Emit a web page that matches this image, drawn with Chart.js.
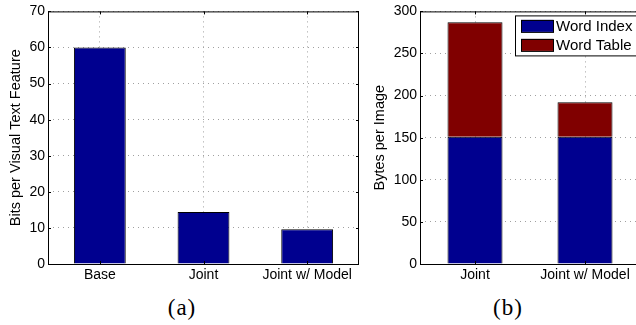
<!DOCTYPE html>
<html>
<head>
<meta charset="utf-8">
<script src="https://cdn.jsdelivr.net/npm/chart.js@4/dist/chart.umd.min.js"></script>
<style>
  html, body { margin: 0; padding: 0; background: #fff; overflow: hidden; }
  body { width: 636px; height: 325px; position: relative; }
  .box { position: absolute; top: 0; }
  .cap { position: absolute; top: 295px; width: 60px; text-align: center; line-height: 26px;
         font-family: "Liberation Serif", "Times New Roman", serif; font-size: 23px; letter-spacing: 1px; color: #000; }
</style>
</head>
<body>
<div class="box" style="left:0;width:362px;height:290px"><canvas id="chartA"></canvas></div>
<div class="box" style="left:370px;width:280px;height:290px"><canvas id="chartB"></canvas></div>
<div class="cap" style="left:152px">(a)</div>
<div class="cap" style="left:478px">(b)</div>
<script>
// panel (a)
const labelsA = ["Base", "Joint", "Joint w/ Model"];
const bitsPerFeature = [60, 14.4, 9.6];
const ticksA = [0, 10, 20, 30, 40, 50, 60, 70];

// panel (b)
const labelsB = ["Joint", "Joint w/ Model"];
const wordIndex = [151, 151];
const wordTable = [136, 41];
const ticksB = [0, 50, 100, 150, 200, 250, 300];

const BLUE = "#00008f";
const RED = "#800000";
const FONT = "'Liberation Sans', Arial, sans-serif";

Chart.defaults.font.family = FONT;
Chart.defaults.color = "#000";

// matlab-ish box round the axes with inward ticks
const boxPlugin = {
  id: "boxPlugin",
  afterDatasetsDraw(chart) {
    const { ctx, chartArea: a, scales } = chart;
    ctx.save();
    ctx.strokeStyle = "#000";
    ctx.lineWidth = 1;
    ctx.strokeRect(a.left + 0.5, a.top + 0.5, a.right - a.left - 1, a.bottom - a.top);
    ctx.beginPath();
    scales.y.ticks.forEach((t, i) => {
      const y = Math.round(scales.y.getPixelForTick(i)) + 0.5;
      ctx.moveTo(a.left, y); ctx.lineTo(a.left + 3, y);
      ctx.moveTo(a.right, y); ctx.lineTo(a.right - 3, y);
    });
    scales.x.ticks.forEach((t, i) => {
      const x = Math.round(scales.x.getPixelForTick(i)) + 0.5;
      ctx.moveTo(x, a.bottom); ctx.lineTo(x, a.bottom - 3);
      ctx.moveTo(x, a.top); ctx.lineTo(x, a.top + 3);
    });
    ctx.stroke();
    ctx.restore();
  }
};

// legend drawn inside the plot, top right
const boxLegend = {
  id: "boxLegend",
  afterDraw(chart) {
    const { ctx, chartArea: a } = chart;
    const left = a.right - 125, top = a.top + 4;
    ctx.save();
    ctx.fillStyle = "#fff";
    ctx.fillRect(left, top, 123, 40);
    ctx.strokeStyle = "#000";
    ctx.lineWidth = 1;
    ctx.strokeRect(left + 0.5, top + 0.5, 123, 40);
    ctx.font = "15px " + FONT;
    ctx.textBaseline = "middle";
    chart.data.datasets.forEach((ds, i) => {
      const cy = top + 10.5 + i * 19;
      ctx.fillStyle = ds.backgroundColor;
      ctx.fillRect(left + 6, cy - 6, 32, 12);
      ctx.strokeStyle = "#000";
      ctx.strokeRect(left + 6.5, cy - 5.5, 32, 12);
      ctx.fillStyle = "#000";
      ctx.fillText(ds.label, left + 41, cy + 0.5);
    });
    ctx.restore();
  }
};

function yAxis(max, ticks, title, yw, titlePad) {
  return {
    min: 0, max: max,
    afterFit: (s) => { s.width = yw; },
    afterBuildTicks: (s) => { s.ticks = ticks.map(v => ({ value: v })); },
    grid: { color: "#a0a0a0", lineWidth: 1, drawTicks: false },
    border: { display: false, dash: [1, 4] },
    ticks: { font: { size: 14 }, padding: 3 },
    title: { display: true, text: title, font: { size: 14.5 }, padding: { top: titlePad, bottom: 0 } }
  };
}

function xAxis(stacked) {
  return {
    stacked: stacked,
    afterFit: (s) => { s.height = 26; },
    grid: { offset: false, color: "#a0a0a0", drawTicks: false },
    border: { display: false, dash: [1, 4] },
    ticks: { font: { size: 14 }, padding: 3, maxRotation: 0, autoSkip: false }
  };
}

new Chart(document.getElementById("chartA"), {
  type: "bar",
  data: {
    labels: labelsA,
    datasets: [{
      label: "Bits",
      data: bitsPerFeature,
      backgroundColor: BLUE,
      borderColor: "#000",
      borderWidth: 1,
      barPercentage: 0.5,
      categoryPercentage: 1
    }]
  },
  options: {
    responsive: true,
    maintainAspectRatio: false,
    animation: false,
    layout: { padding: { left: 0, top: 10, right: 3, bottom: 0 } },
    plugins: { legend: { display: false }, tooltip: { enabled: false } },
    scales: {
      x: xAxis(false),
      y: yAxis(70, ticksA, "Bits per Visual Text Feature", 48, 7.5)
    }
  },
  plugins: [boxPlugin]
});

new Chart(document.getElementById("chartB"), {
  type: "bar",
  data: {
    labels: labelsB,
    datasets: [
      { label: "Word Index", data: wordIndex, backgroundColor: BLUE, borderColor: "#000", borderWidth: 1, barPercentage: 0.5, categoryPercentage: 1 },
      { label: "Word Table", data: wordTable, backgroundColor: RED, borderColor: "#000", borderWidth: 1, barPercentage: 0.5, categoryPercentage: 1 }
    ]
  },
  options: {
    responsive: true,
    maintainAspectRatio: false,
    animation: false,
    layout: { padding: { left: 0, top: 10, right: 10, bottom: 0 } },
    plugins: { legend: { display: false }, tooltip: { enabled: false } },
    scales: {
      x: xAxis(true),
      y: Object.assign(yAxis(300, ticksB, "Bytes per Image", 50, 1.5), { stacked: true })
    }
  },
  plugins: [boxPlugin, boxLegend]
});
</script>
</body>
</html>
